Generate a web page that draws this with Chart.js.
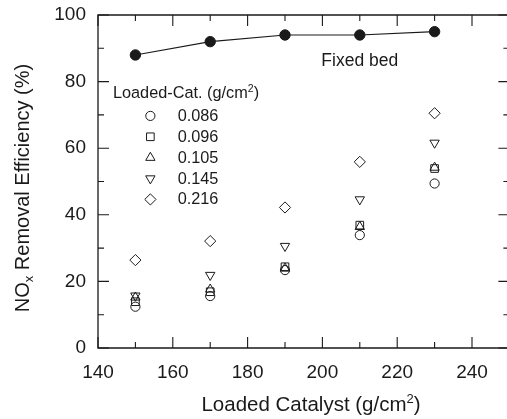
<!DOCTYPE html>
<html>
<head>
<meta charset="utf-8">
<script src="https://cdn.jsdelivr.net/npm/chart.js@4.4.1/dist/chart.umd.min.js"></script>
<style>
html,body{margin:0;padding:0;overflow:hidden;background:#fff;width:507px;height:419px;}
#wrap{width:516px;height:419px;}
</style>
</head>
<body>
<div id="wrap"><canvas id="c" width="516" height="419"></canvas></div>
<script>
const loadedCatalyst = [150, 170, 190, 210, 230];
const fixedBed = [88, 92, 94, 94, 95];
const cat086 = [12.4, 15.6, 23.4, 33.9, 49.4];
const cat096 = [13.9, 16.9, 24.4, 36.9, 53.9];
const cat105 = [15.2, 17.6, 23.9, 36.4, 54.2];
const cat145 = [15.7, 21.9, 30.6, 44.6, 61.6];
const cat216 = [26.4, 32.1, 42.2, 55.9, 70.5];
const seriesLabels = ['0.086', '0.096', '0.105', '0.145', '0.216'];
const xTickLabels = [140, 160, 180, 200, 220, 240];
const yTickLabels = [0, 20, 40, 60, 80, 100];

const FONT = '"Liberation Sans", Arial, Helvetica, sans-serif';
const INK = '#1a1a1a';

function pts(vals){ return loadedCatalyst.map((x,i)=>({x:x, y:vals[i]})); }

const markerDefs = [
  {style:'circle', radius:4.6, rotation:0},
  {style:'rect', radius:5.4, rotation:0},
  {style:'triangle', radius:5.4, rotation:0},
  {style:'triangle', radius:5.4, rotation:180},
  {style:'rectRot', radius:5.6, rotation:0}
];
const seriesValues = [cat086, cat096, cat105, cat145, cat216];

const datasets = [{
  label:'Fixed bed',
  data: pts(fixedBed),
  showLine:true,
  borderColor:INK,
  borderWidth:1.1,
  pointRadius:5.2,
  pointBackgroundColor:INK,
  pointBorderColor:INK,
  pointBorderWidth:1,
  pointStyle:'circle'
}];
seriesValues.forEach((v,i)=>{
  datasets.push({
    label:seriesLabels[i],
    data:pts(v),
    showLine:false,
    pointStyle:markerDefs[i].style,
    pointRadius:markerDefs[i].radius,
    rotation:markerDefs[i].rotation,
    pointRotation:markerDefs[i].rotation,
    pointBackgroundColor:'rgba(0,0,0,0)',
    pointBorderColor:INK,
    pointBorderWidth:1
  });
});

function drawMarker(ctx, def, x, y){
  ctx.save();
  ctx.strokeStyle = INK;
  ctx.fillStyle = 'rgba(0,0,0,0)';
  ctx.lineWidth = 1;
  if (Chart.helpers && Chart.helpers.drawPoint) {
    Chart.helpers.drawPoint(ctx, {pointStyle:def.style, radius:def.radius, rotation:def.rotation, borderWidth:1}, x, y);
  }
  ctx.restore();
}

function drawRich(ctx, parts, x, y, align){
  let total = 0;
  parts.forEach(p=>{ ctx.font = p.size+'px '+FONT; p.w = ctx.measureText(p.t).width; total += p.w; });
  let cx = align==='center' ? x - total/2 : x;
  parts.forEach(p=>{
    ctx.font = p.size+'px '+FONT;
    ctx.fillText(p.t, cx, y + (p.dy||0));
    cx += p.w;
  });
}

const framePlugin = {
  id:'frame',
  afterDatasetsDraw(chart){
    const ctx = chart.ctx;
    const a = chart.chartArea;
    const xs = chart.scales.x, ys = chart.scales.y;
    ctx.save();
    ctx.strokeStyle = INK;
    ctx.lineWidth = 1.3;
    ctx.beginPath();
    ctx.rect(a.left, a.top, a.right - a.left, a.bottom - a.top);
    ctx.stroke();
    ctx.lineWidth = 1.1;
    ctx.beginPath();
    for (let v = 140; v <= 250; v += 10) {
      const px = xs.getPixelForValue(v);
      const len = (v % 20 === 0) ? 11 : 6;
      ctx.moveTo(px, a.bottom); ctx.lineTo(px, a.bottom - len);
      ctx.moveTo(px, a.top); ctx.lineTo(px, a.top + len);
    }
    for (let v = 0; v <= 100; v += 10) {
      const py = ys.getPixelForValue(v);
      const len = (v % 20 === 0) ? 11 : 6;
      ctx.moveTo(a.left, py); ctx.lineTo(a.left + len, py);
      ctx.moveTo(a.right, py); ctx.lineTo(a.right - len, py);
    }
    ctx.stroke();

    ctx.fillStyle = INK;
    ctx.textBaseline = 'alphabetic';
    ctx.font = '17.5px '+FONT;
    ctx.textAlign = 'center';
    ctx.fillText('Fixed bed', xs.getPixelForValue(210), ys.getPixelForValue(84.6));

    ctx.textAlign = 'left';
    const lx = xs.getPixelForValue(144);
    drawRich(ctx, [
      {t:'Loaded-Cat. (g/cm', size:16.3},
      {t:'2', size:10.5, dy:-6.5},
      {t:')', size:16.3}
    ], lx, ys.getPixelForValue(75), 'left');
    const symX = xs.getPixelForValue(154);
    const txtX = xs.getPixelForValue(161.3);
    for (let i = 0; i < 5; i++) {
      const yv = 69.7 - i*6.27;
      const py = ys.getPixelForValue(yv);
      drawMarker(ctx, markerDefs[i], symX, py);
      ctx.font = '16.3px '+FONT;
      ctx.textBaseline = 'middle';
      ctx.fillText(seriesLabels[i], txtX, py + 0.5);
    }
    ctx.textBaseline = 'alphabetic';

    ctx.textAlign = 'left';
    drawRich(ctx, [
      {t:'Loaded Catalyst (g/cm', size:20.5},
      {t:'2', size:13, dy:-8.5},
      {t:')', size:20.5}
    ], 311, 411, 'center');

    ctx.save();
    ctx.translate(29, 188);
    ctx.rotate(-Math.PI/2);
    drawRich(ctx, [
      {t:'NO', size:20},
      {t:'x', size:13, dy:4},
      {t:' Removal Efficiency (%)', size:20}
    ], 0, 0, 'center');
    ctx.restore();
    ctx.restore();
  }
};

new Chart(document.getElementById('c'), {
  type:'scatter',
  data:{datasets:datasets},
  options:{
    responsive:false,
    animation:false,
    events:[],
    layout:{padding:{top:15, right:2, left:0, bottom:0}},
    plugins:{legend:{display:false}, tooltip:{enabled:false}, title:{display:false}},
    scales:{
      x:{
        type:'linear', min:140, max:250,
        grid:{display:false, drawTicks:false},
        border:{display:false},
        afterFit(s){ s.height = 71; s.paddingLeft = 0; s.paddingRight = 0; },
        afterBuildTicks(s){ s.ticks = xTickLabels.map(v=>({value:v})); },
        ticks:{color:INK, font:{family:FONT, size:19}, padding:13, maxRotation:0, autoSkip:false}
      },
      y:{
        type:'linear', min:0, max:100,
        grid:{display:false, drawTicks:false},
        border:{display:false},
        afterFit(s){ s.width = 98; s.paddingTop = 0; s.paddingBottom = 0; },
        afterBuildTicks(s){ s.ticks = yTickLabels.map(v=>({value:v})); },
        ticks:{color:INK, font:{family:FONT, size:19}, padding:12, autoSkip:false}
      }
    }
  },
  plugins:[framePlugin]
});
</script>
</body>
</html>
